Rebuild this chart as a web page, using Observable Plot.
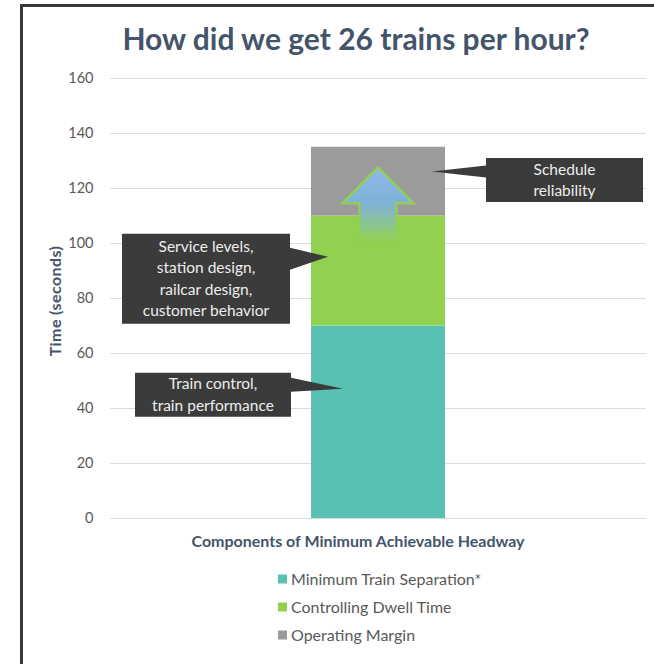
<!DOCTYPE html>
<html>
<head>
<meta charset="utf-8">
<script src="https://cdn.jsdelivr.net/npm/d3@7"></script>
<script src="https://cdn.jsdelivr.net/npm/@observablehq/plot@0.6"></script>
<style>
  body { margin: 0; background: #fff; }
  #chart { position: relative; width: 654px; height: 664px; overflow: hidden; }
  #chart svg { position: absolute; left: 0; top: 0; }
</style>
</head>
<body>
<div id="chart"></div>
<script>
// Headway components (seconds), stacked bottom to top
const category = "Components of Minimum Achievable Headway";
const components = ["Minimum Train Separation*", "Controlling Dwell Time", "Operating Margin"];
const seconds = [70, 40, 25];
const colors = ["#58c1b2", "#92d050", "#9b9b9b"];
const yTicks = [0, 20, 40, 60, 80, 100, 120, 140, 160];

// Callout notes and the time (seconds) each pointer lands on
const calloutText = [
  ["Train control,", "train performance"],
  ["Service levels,", "station design,", "railcar design,", "customer behavior"],
  ["Schedule", "reliability"]
];
const calloutAt = [47, 95, 126];

// Up arrow drawn inside the bar: shaft base, head base, tip (seconds)
const arrowSpan = [98.5, 114.5, 127.5];

const title = "How did we get 26 trains per hour?";
const yTitle = "Time (seconds)";

const rows = components.map((c, i) => ({category, component: c, value: seconds[i]}));

const font = "Lato, 'Open Sans', sans-serif";
const W = 654, H = 664;
const barPadding = 0.6;

// Pixel geometry of each callout box relative to the bar edge and pointer tip
const calloutLayout = [
  {side: "left", tipInset: 32, gap: 20, w: 156, h: 44, top: -16, base: [-11, 3]},
  {side: "left", tipInset: 17, gap: 21, w: 168, h: 90, top: -23, base: [-9, 13]},
  {side: "right", tipInset: 13, gap: 41, w: 157, h: 44, top: -13.5, base: [-6, 6]}
];

function bandInfo(scales, dims) {
  const sx = scales.x;
  let bw, x0;
  if (typeof sx.bandwidth === "function") {
    bw = sx.bandwidth(); x0 = sx(category);
  } else {
    const inner = dims.width - dims.marginLeft - dims.marginRight;
    bw = inner * (1 - barPadding) / (1 + barPadding);
    x0 = dims.marginLeft + (inner - bw) / 2;
  }
  return {x0, x1: x0 + bw, cx: x0 + bw / 2};
}

function arrowMark(index, scales, values, dims) {
  const {cx} = bandInfo(scales, dims);
  const y = scales.y;
  const yBase = y(arrowSpan[0]), yHead = y(arrowSpan[1]), yTip = y(arrowSpan[2]);
  const headHalf = 35.5, shaftHalf = 18.5;
  const ns = "http://www.w3.org/2000/svg";
  const g = document.createElementNS(ns, "g");
  g.innerHTML = `
    <defs>
      <linearGradient id="arrowFill" gradientUnits="userSpaceOnUse" x1="0" y1="${yTip}" x2="0" y2="${yBase}">
        <stop offset="0" stop-color="#8fb8ea"/>
        <stop offset="0.45" stop-color="#7fb2d6"/>
        <stop offset="0.75" stop-color="#8cc59a" stop-opacity="0.8"/>
        <stop offset="1" stop-color="#92d050" stop-opacity="0"/>
      </linearGradient>
      <linearGradient id="arrowEdge" gradientUnits="userSpaceOnUse" x1="0" y1="${yTip}" x2="0" y2="${yBase}">
        <stop offset="0" stop-color="#92d050"/>
        <stop offset="0.55" stop-color="#92d050" stop-opacity="0.9"/>
        <stop offset="1" stop-color="#92d050" stop-opacity="0"/>
      </linearGradient>
      <filter id="soft" x="-20%" y="-20%" width="140%" height="140%">
        <feGaussianBlur stdDeviation="0.6"/>
      </filter>
    </defs>
    <path d="M${cx},${yTip} L${cx + headHalf},${yHead} L${cx + shaftHalf},${yHead} L${cx + shaftHalf},${yBase} L${cx - shaftHalf},${yBase} L${cx - shaftHalf},${yHead} L${cx - headHalf},${yHead} Z"
      fill="url(#arrowFill)" stroke="url(#arrowEdge)" stroke-width="2.5" stroke-linejoin="miter" filter="url(#soft)"/>`;
  return g;
}

function calloutMark(index, scales, values, dims) {
  const {x0, x1} = bandInfo(scales, dims);
  const ns = "http://www.w3.org/2000/svg";
  const g = document.createElementNS(ns, "g");
  calloutText.forEach((lines, i) => {
    const L = calloutLayout[i];
    const ty = scales.y(calloutAt[i]);
    let tx, bx, edge;
    if (L.side === "left") {
      tx = x0 + L.tipInset; edge = x0 - L.gap; bx = edge - L.w;
    } else {
      tx = x1 - L.tipInset; edge = x1 + L.gap; bx = edge;
    }
    const by = ty + L.top;
    const box = document.createElementNS(ns, "rect");
    box.setAttribute("x", bx); box.setAttribute("y", by);
    box.setAttribute("width", L.w); box.setAttribute("height", L.h);
    box.setAttribute("fill", "#3b3b3b");
    g.appendChild(box);
    const tri = document.createElementNS(ns, "path");
    tri.setAttribute("d", `M${edge},${ty + L.base[0]} L${tx},${ty} L${edge},${ty + L.base[1]} Z`);
    tri.setAttribute("fill", "#3b3b3b");
    g.appendChild(tri);
    const lh = 21.5;
    lines.forEach((s, j) => {
      const t = document.createElementNS(ns, "text");
      t.setAttribute("x", bx + L.w / 2);
      t.setAttribute("y", by + L.h / 2 + (j - (lines.length - 1) / 2) * lh);
      t.setAttribute("dy", "0.35em");
      t.setAttribute("text-anchor", "middle");
      t.setAttribute("fill", "#ededed");
      t.setAttribute("font-size", "15.5px");
      t.setAttribute("font-family", font);
      t.textContent = s;
      g.appendChild(t);
    });
  });
  return g;
}

const chart = Plot.plot({
  width: W,
  height: H,
  marginTop: 78,
  marginBottom: H - 518,
  marginLeft: 110,
  marginRight: 8,
  style: {fontFamily: font, fontSize: "14.5px", color: "#595959", background: "transparent"},
  x: {type: "band", domain: [category], padding: barPadding, axis: null},
  y: {domain: [0, 160], ticks: yTicks, tickSize: 0, tickPadding: 17, label: null},
  color: {domain: components, range: colors},
  marks: [
    Plot.ruleY(yTicks, {stroke: "#dcdcdc", strokeWidth: 1}),
    Plot.barY(rows, {x: "category", y: "value", fill: "component"}),
    arrowMark,
    calloutMark
  ]
});

document.getElementById("chart").appendChild(chart);

// Frame, titles and legend drawn into the same SVG
const svg = d3.select(chart);
svg.append("path")
  .attr("d", `M21.5,${H} L21.5,5.5 L${W},5.5`)
  .attr("fill", "none").attr("stroke", "#383838").attr("stroke-width", 3);

svg.append("text")
  .attr("x", 356).attr("y", 50)
  .attr("text-anchor", "middle")
  .attr("font-family", font).attr("font-weight", 700).attr("font-size", "30px")
  .attr("fill", "#44546a")
  .text(title);

svg.append("text")
  .attr("transform", "translate(61,301) rotate(-90)")
  .attr("text-anchor", "middle")
  .attr("font-family", font).attr("font-weight", 700).attr("font-size", "16px")
  .attr("letter-spacing", "0.4px")
  .attr("fill", "#44546a")
  .text(yTitle);

svg.append("text")
  .attr("x", 358).attr("y", 547)
  .attr("text-anchor", "middle")
  .attr("font-family", font).attr("font-weight", 700).attr("font-size", "16px")
  .attr("fill", "#44546a")
  .text(category);

const color = chart.scale("color");
const legend = svg.append("g").attr("text-anchor", "start");
components.forEach((c, i) => {
  const cy = 579 + i * 28;
  legend.append("rect")
    .attr("x", 278).attr("y", cy - 4.5).attr("width", 9).attr("height", 9)
    .attr("fill", color.apply(c));
  legend.append("text")
    .attr("x", 291).attr("y", cy).attr("dy", "0.35em")
    .attr("text-anchor", "start")
    .attr("font-family", font).attr("font-size", "16px")
    .attr("fill", "#595959")
    .text(c);
});
</script>
</body>
</html>
